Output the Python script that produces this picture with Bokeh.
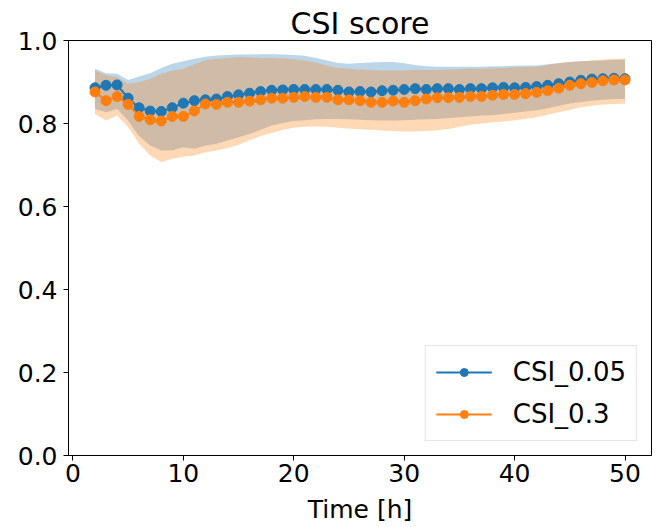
from bokeh.plotting import figure
from bokeh.models import Range1d, FixedTicker, NumeralTickFormatter, Legend, LegendItem
from bokeh.embed import file_html
from bokeh.resources import INLINE

hours = list(range(2, 51))

csi_005 = [0.886, 0.892, 0.893, 0.861, 0.838, 0.830, 0.829, 0.838, 0.849, 0.855,
           0.857, 0.859, 0.865, 0.869, 0.873, 0.877, 0.880, 0.881, 0.882, 0.882,
           0.882, 0.882, 0.880, 0.876, 0.877, 0.876, 0.879, 0.880, 0.882, 0.884,
           0.882, 0.884, 0.884, 0.882, 0.884, 0.884, 0.886, 0.887, 0.886, 0.887,
           0.889, 0.892, 0.896, 0.900, 0.904, 0.907, 0.908, 0.909, 0.908]

csi_03 = [0.876, 0.855, 0.865, 0.846, 0.817, 0.809, 0.806, 0.817, 0.817, 0.830,
          0.847, 0.846, 0.851, 0.851, 0.854, 0.857, 0.861, 0.861, 0.863, 0.865,
          0.863, 0.863, 0.857, 0.857, 0.855, 0.851, 0.851, 0.854, 0.851, 0.855,
          0.859, 0.862, 0.862, 0.863, 0.865, 0.865, 0.868, 0.870, 0.870, 0.872,
          0.875, 0.879, 0.885, 0.892, 0.896, 0.899, 0.903, 0.905, 0.905]

csi_005_upper = [0.932, 0.921, 0.920, 0.905, 0.913, 0.921, 0.934, 0.944, 0.950, 0.956,
                 0.961, 0.964, 0.965, 0.966, 0.966, 0.967, 0.967, 0.966, 0.965, 0.963,
                 0.958, 0.952, 0.946, 0.944, 0.946, 0.947, 0.948, 0.948, 0.945, 0.941,
                 0.938, 0.937, 0.937, 0.937, 0.937, 0.937, 0.938, 0.938, 0.939, 0.940,
                 0.940, 0.943, 0.946, 0.948, 0.950, 0.951, 0.952, 0.953, 0.954]

csi_005_lower = [0.835, 0.827, 0.835, 0.807, 0.769, 0.747, 0.735, 0.735, 0.743, 0.739,
                 0.747, 0.751, 0.759, 0.767, 0.775, 0.785, 0.795, 0.801, 0.806, 0.808,
                 0.810, 0.811, 0.811, 0.810, 0.809, 0.808, 0.807, 0.807, 0.808, 0.809,
                 0.810, 0.811, 0.813, 0.815, 0.817, 0.819, 0.820, 0.823, 0.826, 0.829,
                 0.832, 0.837, 0.843, 0.848, 0.852, 0.855, 0.857, 0.859, 0.859]

csi_03_upper = [0.928, 0.916, 0.912, 0.896, 0.900, 0.908, 0.920, 0.928, 0.932, 0.942,
                0.953, 0.956, 0.958, 0.960, 0.959, 0.958, 0.958, 0.957, 0.955, 0.952,
                0.947, 0.940, 0.934, 0.932, 0.930, 0.929, 0.928, 0.928, 0.928, 0.929,
                0.929, 0.929, 0.930, 0.931, 0.932, 0.932, 0.933, 0.934, 0.935, 0.936,
                0.937, 0.941, 0.945, 0.948, 0.950, 0.952, 0.954, 0.956, 0.956]

csi_03_lower = [0.823, 0.807, 0.819, 0.791, 0.751, 0.723, 0.707, 0.715, 0.720, 0.723,
                0.731, 0.735, 0.741, 0.749, 0.760, 0.770, 0.778, 0.785, 0.790, 0.792,
                0.793, 0.792, 0.790, 0.788, 0.786, 0.785, 0.783, 0.782, 0.781, 0.781,
                0.782, 0.784, 0.787, 0.792, 0.797, 0.800, 0.803, 0.805, 0.808, 0.811,
                0.815, 0.821, 0.827, 0.833, 0.839, 0.843, 0.846, 0.847, 0.848]

x_ticks = [0, 10, 20, 30, 40, 50]
y_ticks = [0.0, 0.2, 0.4, 0.6, 0.8, 1.0]

BLUE = "#1f77b4"
ORANGE = "#ff7f0e"
FONT = "DejaVu Sans"

p = figure(width=656, height=527, output_backend="svg", toolbar_location=None,
           x_range=Range1d(-0.4, 52.4), y_range=Range1d(0.0, 1.0),
           min_border_left=68, min_border_right=5, min_border_top=40,
           min_border_bottom=72, title="CSI score")

p.title.text_font = FONT
p.title.text_font_size = "30px"
p.title.text_font_style = "normal"
p.title.align = "center"
p.title.text_color = "black"
p.title.standoff = 0
p.title.offset = 0

p.xgrid.visible = False
p.ygrid.visible = False
p.outline_line_color = "black"
p.outline_line_width = 1
p.outline_line_alpha = 1.0
p.background_fill_color = "white"
p.border_fill_color = "white"

# bands
p.varea(x=hours, y1=csi_005_lower, y2=csi_005_upper, fill_color=BLUE, fill_alpha=0.3)
p.varea(x=hours, y1=csi_03_lower, y2=csi_03_upper, fill_color=ORANGE, fill_alpha=0.3)

# lines
p.line(hours, csi_005, line_color=BLUE, line_width=2)
p.scatter(hours, csi_005, size=10, fill_color=BLUE, line_color=BLUE)
p.line(hours, csi_03, line_color=ORANGE, line_width=2)
p.scatter(hours, csi_03, size=10, fill_color=ORANGE, line_color=ORANGE)

# legend glyph proxies placed off-screen
off_x = [-1000.0, -999.0]
off_y = [-1000.0, -1000.0]
lb = p.line(off_x, off_y, line_color=BLUE, line_width=2)
sb = p.scatter(off_x, off_y, size=8, fill_color=BLUE, line_color=BLUE)
lo = p.line(off_x, off_y, line_color=ORANGE, line_width=2)
so = p.scatter(off_x, off_y, size=8, fill_color=ORANGE, line_color=ORANGE)

lg = Legend(items=[LegendItem(label="CSI_0.05", renderers=[lb, sb]),
                   LegendItem(label="CSI_0.3", renderers=[lo, so])])
p.add_layout(lg, "center")

for ax in (p.xaxis[0], p.yaxis[0]):
    ax.axis_line_color = "black"
    ax.axis_line_width = 1
    ax.major_tick_line_color = "black"
    ax.major_tick_in = 0
    ax.major_tick_out = 5
    ax.minor_tick_line_color = None
    ax.major_label_text_font = FONT
    ax.major_label_text_font_size = "25px"
    ax.major_label_text_color = "black"
    ax.axis_label_text_font = FONT
    ax.axis_label_text_font_size = "25px"
    ax.axis_label_text_font_style = "normal"
    ax.axis_label_text_color = "black"

p.xaxis.ticker = FixedTicker(ticks=x_ticks)
p.yaxis.ticker = FixedTicker(ticks=y_ticks)
p.yaxis.formatter = NumeralTickFormatter(format="0.0")
p.xaxis.axis_label = "Time [h]"
p.xaxis.major_label_standoff = 3
p.xaxis.axis_label_standoff = 10
p.yaxis.major_label_standoff = 6

lg.location = "bottom_right"
lg.margin = 14
lg.padding = 10
lg.spacing = 10
lg.glyph_width = 56
lg.glyph_height = 20
lg.label_height = 32
lg.label_standoff = 21
lg.label_text_font = FONT
lg.label_text_font_size = "26px"
lg.label_text_color = "black"
lg.border_line_color = "#cccccc"
lg.border_line_width = 1
lg.background_fill_alpha = 0.8

open("out.html", "w").write(file_html(p, INLINE))
